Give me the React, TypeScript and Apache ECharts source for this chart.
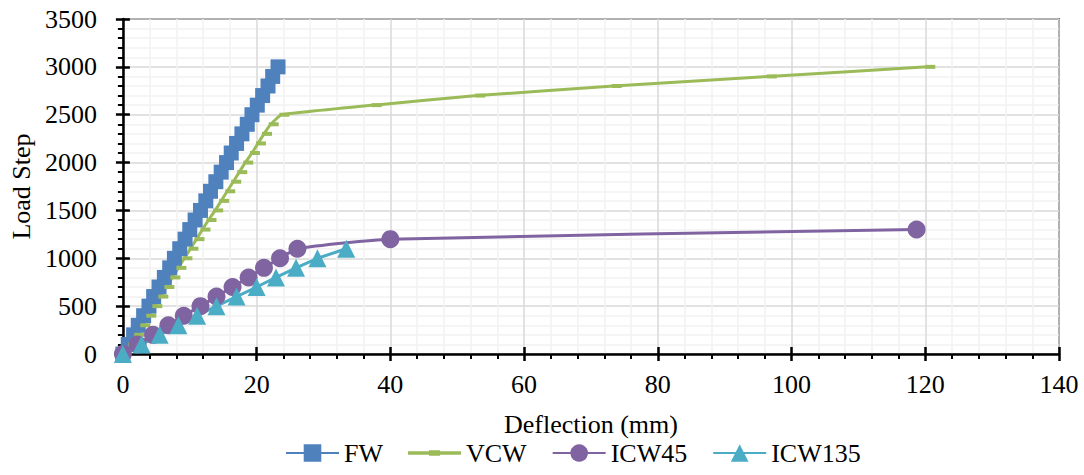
import React, { useEffect, useRef } from "react";
import * as echarts from "echarts";

const seriesNames = ["FW", "VCW", "ICW45", "ICW135"];
const colors = ["#4F81BD", "#9BBB59", "#8064A2", "#4BACC6"];

const fwLoad = [0, 100, 200, 300, 400, 500, 600, 700, 800, 900, 1000, 1100, 1200, 1300, 1400, 1500, 1600, 1700, 1800, 1900, 2000, 2100, 2200, 2300, 2400, 2500, 2600, 2700, 2800, 2900, 3000];
const fwDefl = [0, 0.8, 1.6, 2.3, 3.1, 3.9, 4.6, 5.4, 6.2, 7.0, 7.7, 8.5, 9.3, 10.0, 10.8, 11.6, 12.4, 13.1, 13.9, 14.7, 15.5, 16.2, 17.0, 17.8, 18.6, 19.3, 20.1, 20.9, 21.7, 22.4, 23.2];

const vcwLoad = [0, 100, 200, 300, 400, 500, 600, 700, 800, 900, 1000, 1100, 1200, 1300, 1400, 1500, 1600, 1700, 1800, 1900, 2000, 2100, 2200, 2300, 2400, 2500, 2600, 2700, 2800, 2900, 3000];
const vcwDefl = [0, 1.1, 2.0, 2.9, 3.8, 4.7, 5.6, 6.5, 7.4, 8.3, 9.2, 10.1, 11.0, 11.9, 12.8, 13.8, 14.7, 15.6, 16.5, 17.4, 18.3, 19.3, 20.2, 21.1, 22.1, 23.7, 37.5, 53.0, 73.4, 96.6, 120.3];

const icw45Load = [0, 100, 200, 300, 400, 500, 600, 700, 800, 900, 1000, 1100, 1200, 1300];
const icw45Defl = [0, 2.2, 4.5, 6.8, 9.1, 11.6, 14.0, 16.4, 18.8, 21.1, 23.5, 26.1, 40.0, 118.7];

const icw135Load = [0, 100, 200, 300, 400, 500, 600, 700, 800, 900, 1000, 1100];
const icw135Defl = [0, 2.8, 5.5, 8.3, 11.1, 14.0, 17.0, 20.0, 22.9, 25.9, 29.1, 33.4];

const xTicks = { min: 0, max: 140, interval: 20 };
const yTicks = { min: 0, max: 3500, interval: 500 };

const FONT = "Liberation Serif";
const FS = 26;

function pairs(xs: number[], ys: number[]) {
  return xs.map((x, i) => [x, ys[i]]);
}

export default function App() {
  const ref = useRef<HTMLDivElement>(null);
  useEffect(() => {
    if (!ref.current) return;
    const chart = echarts.init(ref.current, null, { renderer: "svg" });
    const gridLeft = 121, gridRight = 25, gridTop = 19, gridBottom = 121;
    const baseX = {
      type: "value" as const,
      min: xTicks.min,
      max: xTicks.max,
      interval: xTicks.interval,
      position: "bottom" as const,
    };
    const baseY = {
      type: "value" as const,
      min: yTicks.min,
      max: yTicks.max,
      interval: yTicks.interval,
      position: "left" as const,
    };
    chart.setOption({
      animation: false,
      backgroundColor: "#ffffff",
      textStyle: { fontFamily: FONT },
      grid: {
        left: gridLeft,
        right: gridRight,
        top: gridTop,
        bottom: gridBottom,
        show: true,
        borderColor: "#000000",
        borderWidth: 1.5,
        backgroundColor: "transparent",
      },
      xAxis: [
        {
          ...baseX,
          name: "Deflection (mm)",
          nameLocation: "middle",
          nameGap: 57,
          nameTextStyle: { fontFamily: FONT, fontSize: FS, color: "#000" },
          axisLine: { show: true, onZero: false, lineStyle: { color: "#000", width: 2.5 } },
          axisTick: { show: true, inside: false, length: 7, lineStyle: { color: "#000", width: 2.5 } },
          minorTick: { show: true, splitNumber: 5, length: 5, lineStyle: { color: "#000", width: 2 } },
          axisLabel: { fontFamily: FONT, fontSize: FS, color: "#000", margin: 17, formatter: (v: number) => String(v) },
          splitLine: { show: true, lineStyle: { color: "#D9D9D9", width: 1.5 } },
          minorSplitLine: { show: true, lineStyle: { color: "#F2F2F2", width: 1.5 } },
        },
        {
          ...baseX,
          axisLine: { show: false },
          axisTick: { show: true, inside: true, length: 7, lineStyle: { color: "#000", width: 2.5 } },
          axisLabel: { show: false },
          splitLine: { show: false },
        },
      ],
      yAxis: [
        {
          ...baseY,
          name: "Load Step",
          nameLocation: "middle",
          nameGap: 84,
          nameRotate: 90,
          nameTextStyle: { fontFamily: FONT, fontSize: FS, color: "#000" },
          axisLine: { show: true, onZero: false, lineStyle: { color: "#000", width: 2.5 } },
          axisTick: { show: true, inside: false, length: 7, lineStyle: { color: "#000", width: 2.5 } },
          minorTick: { show: true, splitNumber: 5, length: 5, lineStyle: { color: "#000", width: 2 } },
          axisLabel: { fontFamily: FONT, fontSize: FS, color: "#000", margin: 26, formatter: (v: number) => String(v) },
          splitLine: { show: true, lineStyle: { color: "#D9D9D9", width: 1.5 } },
          minorSplitLine: { show: true, lineStyle: { color: "#F2F2F2", width: 1.5 } },
        },
        {
          ...baseY,
          axisLine: { show: false },
          axisTick: { show: true, inside: true, length: 7, lineStyle: { color: "#000", width: 2.5 } },
          axisLabel: { show: false },
          splitLine: { show: false },
        },
      ],
      legend: {
        left: 285,
        top: 440,
        padding: 0,
        itemWidth: 53,
        itemHeight: 22,
        itemGap: 25,
        textStyle: { fontFamily: FONT, fontSize: FS, color: "#000", padding: [0, 0, 0, 0] },
        data: [
          { name: seriesNames[0] },
          { name: seriesNames[1], icon: "path://M0,9.5h53v3.5h-53zM21,8.5h11v5.5h-11z" },
          { name: seriesNames[2] },
          { name: seriesNames[3] },
        ],
      },
      series: [
        {
          name: seriesNames[0],
          type: "line",
          data: pairs(fwDefl, fwLoad),
          symbol: "rect",
          symbolSize: 15,
          itemStyle: { color: colors[0] },
          lineStyle: { color: colors[0], width: 3 },
        },
        {
          name: seriesNames[1],
          type: "line",
          data: pairs(vcwDefl, vcwLoad),
          symbol: "rect",
          symbolSize: [10, 4],
          symbolOffset: [3, 0],
          smooth: 0.08,
          itemStyle: { color: colors[1] },
          lineStyle: { color: colors[1], width: 3 },
        },
        {
          name: seriesNames[2],
          type: "line",
          data: pairs(icw45Defl, icw45Load),
          symbol: "circle",
          symbolSize: 18,
          smooth: 0.2,
          itemStyle: { color: colors[2] },
          lineStyle: { color: colors[2], width: 3 },
        },
        {
          name: seriesNames[3],
          type: "line",
          data: pairs(icw135Defl, icw135Load),
          symbol: "triangle",
          symbolSize: 18,
          itemStyle: { color: colors[3] },
          lineStyle: { color: colors[3], width: 3 },
        },
      ],
    });
    return () => chart.dispose();
  }, []);
  return (
    <div
      ref={ref}
      style={{ position: "absolute", left: 0, top: 0, width: 1084, height: 475, background: "#fff" }}
    />
  );
}
